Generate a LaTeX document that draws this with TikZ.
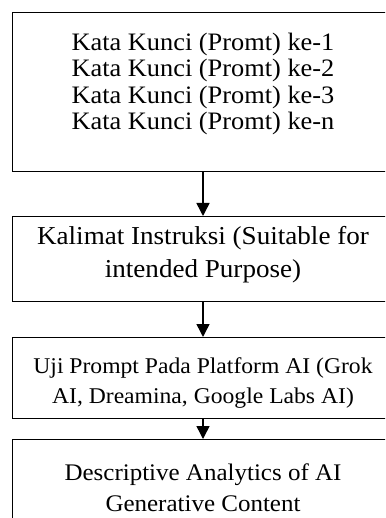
\documentclass[tikz,border=0pt]{standalone}
\usepackage{fontspec}
\setmainfont{Liberation Serif}
\newfontfamily\bodyfont[FakeStretch=1.05]{Liberation Serif}
\usetikzlibrary{arrows.meta}
\tikzset{
  box/.style={draw, line width=1.4pt, rectangle, anchor=north west, inner sep=0pt},
  txt/.style={align=center, inner sep=0pt, font=\bodyfont},
  arr/.style={line width=1.5pt, -{Triangle[length=13pt,width=13pt]}}
}
\begin{document}
\begin{tikzpicture}[x=1pt,y=-1pt]
\useasboundingbox (0,0) rectangle (385,518);
\clip (0,0) rectangle (385,518);
\node[box, minimum width=382pt, minimum height=159pt] (b1) at (12,12) {};
\node[box, minimum width=382pt, minimum height=85pt] (b2) at (12,216) {};
\node[box, minimum width=382pt, minimum height=81pt] (b3) at (12,337) {};
\node[box, minimum width=382pt, minimum height=100pt] (b4) at (12,439) {};
\coordinate (ax) at (203,0);
\node[txt, font=\bodyfont\fontsize{25.1}{26.5}\selectfont, anchor=base] (t1) at (203,130)
  {Kata Kunci (Promt) ke-1\\Kata Kunci (Promt) ke-2\\Kata Kunci (Promt) ke-3\\Kata Kunci (Promt) ke-n};
\node[txt, font=\bodyfont\fontsize{25.8}{33}\selectfont, anchor=base] (t2) at (203,277)
  {Kalimat Instruksi (Suitable for\\intended Purpose)};
\node[txt, font=\bodyfont\fontsize{22.5}{30}\selectfont, anchor=base] (t3) at (203,403)
  {Uji Prompt Pada Platform AI (Grok\\AI, Dreamina, Google Labs AI)};
\node[txt, font=\bodyfont\fontsize{23.8}{31}\selectfont, anchor=base] (t4) at (203,511)
  {Descriptive Analytics of AI\\Generative Content};
\draw[arr] (b1.south -| ax) -- (b2.north -| ax);
\draw[arr] (b2.south -| ax) -- (b3.north -| ax);
\draw[arr] (b3.south -| ax) -- (b4.north -| ax);
\end{tikzpicture}
\end{document}
